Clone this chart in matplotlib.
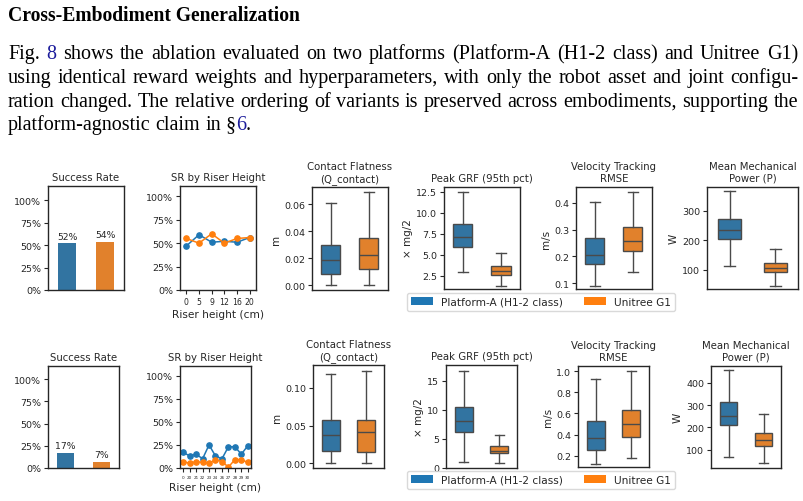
"""
Cross-embodiment generalization figure: paper excerpt plus two rows of
metric panels (Platform-A vs Unitree G1).
"""
import re
import numpy as np
import matplotlib
matplotlib.use("Agg")
import matplotlib.pyplot as plt
from matplotlib.patches import Patch
from matplotlib.ticker import PercentFormatter, FormatStrFormatter

W, H = 804, 502
SERIF = "Liberation Serif"
INK = "#262626"
GRAY = "#4a4a4a"
LINK = "#1c1c9c"
BLUE, ORANGE = "#1f77b4", "#ff7f0e"
BLUE_S, ORANGE_S = "#3274a1", "#e1812c"

# ---- text -----------------------------------------------------------------
title = "Cross-Embodiment Generalization"
body_lines = [
    "Fig. {8} shows the ablation evaluated on two platforms (Platform-A (H1-2 class) and Unitree G1)",
    "using identical reward weights and hyperparameters, with only the robot asset and joint configu-",
    "ration changed. The relative ordering of variants is preserved across embodiments, supporting the",
    "platform-agnostic claim in §{6}.",
]

# ---- data -----------------------------------------------------------------
platforms = ["Platform-A (H1-2 class)", "Unitree G1"]

# row 1
sr_top = [0.52, 0.54]
riser_top_labels = ["0", "5", "9", "12", "16", "20"]
riser_top_a = [0.47, 0.59, 0.51, 0.52, 0.51, 0.56]
riser_top_g = [0.55, 0.50, 0.60, 0.50, 0.55, 0.56]
# box stats as (whislo, q1, med, q3, whishi)
flat_top_a = [0.0, 0.0085, 0.0185, 0.0295, 0.0605]
flat_top_g = [0.0, 0.0115, 0.0225, 0.035, 0.069]
grf_top_a = [2.95, 5.9, 7.05, 8.6, 12.5]
grf_top_g = [1.3, 2.6, 3.05, 3.65, 5.2]
vel_top_a = [0.09, 0.17, 0.205, 0.267, 0.405]
vel_top_g = [0.143, 0.22, 0.257, 0.31, 0.443]
pow_top_a = [113, 205, 236, 270, 367]
pow_top_g = [45, 92, 104, 124, 170]

# row 2
sr_bot = [0.17, 0.07]
riser_bot_labels = ["0", "20", "21", "22", "23", "24", "26", "27", "28", "29", "30"]
riser_bot_a = [0.17, 0.13, 0.15, 0.10, 0.25, 0.13, 0.10, 0.23, 0.23, 0.15, 0.24]
riser_bot_g = [0.07, 0.05, 0.07, 0.06, 0.05, 0.09, 0.07, 0.01, 0.09, 0.09, 0.06]
flat_bot_a = [0.0, 0.017, 0.038, 0.058, 0.119]
flat_bot_g = [0.0, 0.015, 0.042, 0.058, 0.122]
grf_bot_a = [1.0, 6.2, 8.0, 10.5, 16.7]
grf_bot_g = [0.8, 2.5, 3.0, 3.7, 5.6]
vel_bot_a = [0.125, 0.255, 0.37, 0.53, 0.93]
vel_bot_g = [0.18, 0.375, 0.50, 0.635, 1.0]
pow_bot_a = [65, 210, 252, 312, 458]
pow_bot_g = [38, 118, 145, 175, 260]

KEYS = ["whislo", "q1", "med", "q3", "whishi"]

fig = plt.figure(figsize=(W / 100, H / 100), dpi=100)
fig.patch.set_facecolor("white")
renderer = fig.canvas.get_renderer()


def measure(s, size, weight="normal"):
    t = fig.text(0, 0, s, fontsize=size, family=SERIF, weight=weight)
    w = t.get_window_extent(renderer).width
    t.remove()
    return w


def pieces(word):
    out = []
    for i, part in enumerate(re.split(r"[{}]", word)):
        if part:
            out.append((part, LINK if i % 2 else "black"))
    return out


X0, X1 = 8, 798

# title, sized to its width in the reference
tsize = 10 * 294 / measure(title, 10, "bold")
fig.text(X0 / W, 1 - 21 / H, title, fontsize=tsize, family=SERIF,
         weight="bold", va="baseline")

# body, justified like the paper
plain = [re.sub(r"[{}]", "", s) for s in body_lines[:3]]
bsize = min(14.6, 10 * 788 / max(measure(s, 10) for s in plain))
space = measure("a a", bsize) - measure("aa", bsize)
for i, line in enumerate(body_lines):
    y = 59 + 23.8 * i
    words = line.split(" ")
    widths = [[measure(p, bsize) for p, _ in pieces(w)] for w in words]
    total = sum(sum(ws) for ws in widths)
    justify = i < len(body_lines) - 1
    gap = (X1 - X0 - total) / (len(words) - 1) if justify else space
    x = X0
    for w, ws in zip(words, widths):
        for (p, c), pw in zip(pieces(w), ws):
            fig.text(x / W, 1 - y / H, p, fontsize=bsize, family=SERIF,
                     color=c, va="baseline")
            x += pw
        x += gap


# ---- panels ---------------------------------------------------------------
def add_ax(x0, y0, x1, y1):
    ax = fig.add_axes([x0 / W, 1 - y1 / H, (x1 - x0) / W, (y1 - y0) / H])
    for s in ax.spines.values():
        s.set_color(INK)
        s.set_linewidth(1.0)
    ax.tick_params(direction="out", length=3, width=0.8, colors=INK,
                   labelsize=6.8, pad=2)
    return ax


def set_title(ax, text):
    ax.set_title(text, fontsize=7.3, color=INK, pad=4.5)


def bar_panel(rect, vals, top):
    ax = add_ax(*rect)
    bars = ax.bar(range(len(vals)), vals, width=0.48, color=[BLUE_S, ORANGE_S])
    ax.set_xlim(-0.5, 1.5)
    ax.set_ylim(0, top)
    ax.set_xticks([])
    ax.set_yticks([0, 0.25, 0.5, 0.75, 1.0])
    ax.yaxis.set_major_formatter(PercentFormatter(1.0, decimals=0))
    ax.bar_label(bars, labels=[f"{v:.0%}" for v in vals], padding=2,
                 fontsize=6.7, color=INK)
    set_title(ax, "Success Rate")


def riser_panel(rect, labels, a, g, top, tsz):
    ax = add_ax(*rect)
    x = np.arange(len(labels))
    ax.plot(x, a, "-o", color=BLUE, ms=3.8, lw=1.1)
    ax.plot(x, g, "-o", color=ORANGE, ms=3.8, lw=1.1)
    ax.set_xlim(-0.5, len(labels) - 0.5)
    ax.set_ylim(0, top)
    ax.set_xticks(x, labels)
    ax.tick_params(axis="x", labelsize=tsz)
    ax.set_yticks([0, 0.25, 0.5, 0.75, 1.0])
    ax.yaxis.set_major_formatter(PercentFormatter(1.0, decimals=0))
    ax.set_xlabel("Riser height (cm)", fontsize=7.6, color=INK, labelpad=2)
    set_title(ax, "SR by Riser Height")


def box_panel(rect, sa, sg, ylim, ticks, fmt, ylabel, title_text):
    ax = add_ax(*rect)
    stats = [dict(zip(KEYS, s)) for s in (sa, sg)]
    line = dict(color=GRAY, linewidth=1.0)
    bp = ax.bxp(stats, positions=[0, 1], widths=0.5, showfliers=False,
                patch_artist=True,
                boxprops=dict(edgecolor=GRAY, linewidth=1.0),
                whiskerprops=line, capprops=line, medianprops=line)
    for patch, c in zip(bp["boxes"], [BLUE_S, ORANGE_S]):
        patch.set_facecolor(c)
    ax.set_xlim(-0.5, 1.5)
    ax.set_ylim(*ylim)
    ax.set_xticks([])
    ax.set_yticks(ticks)
    ax.yaxis.set_major_formatter(FormatStrFormatter(fmt))
    ax.set_ylabel(ylabel, fontsize=7.5, color=INK, labelpad=2)
    set_title(ax, title_text)


def legend(cx, cy):
    handles = [Patch(facecolor=BLUE, label=platforms[0]),
               Patch(facecolor=ORANGE, label=platforms[1])]
    fig.legend(handles=handles, loc="center",
               bbox_to_anchor=(cx / W, 1 - cy / H), ncol=2, fontsize=7.6,
               labelcolor=INK, frameon=True, edgecolor="#d0d0d0",
               handlelength=2.1, handleheight=0.8, handletextpad=0.75,
               columnspacing=2.0, borderpad=0.35)


CF_T = "Contact Flatness\n(Q_contact)"
GRF_T = "Peak GRF (95th pct)"
VEL_T = "Velocity Tracking\nRMSE"
POW_T = "Mean Mechanical\nPower (P)"

# row 1
bar_panel((48, 187, 124, 291), sr_top, 1.16)
riser_panel((180, 187, 256, 291), riser_top_labels, riser_top_a, riser_top_g, 1.11, 5.6)
box_panel((312, 188, 388, 291), flat_top_a, flat_top_g, (-0.0037, 0.0726),
          [0, 0.02, 0.04, 0.06], "%.2f", "m", CF_T)
box_panel((444, 188, 520, 290), grf_top_a, grf_top_g, (0.92, 13.06),
          [2.5, 5.0, 7.5, 10.0, 12.5], "%.1f", "× mg/2", GRF_T)
box_panel((576, 188, 652, 290), vel_top_a, vel_top_g, (0.0775, 0.46),
          [0.1, 0.2, 0.3, 0.4], "%.1f", "m/s", VEL_T)
box_panel((707, 188, 798, 290), pow_top_a, pow_top_g, (34.5, 380),
          [100, 200, 300], "%d", "W", POW_T)
legend(541, 303)

# row 2
bar_panel((48, 367, 119, 469), sr_bot, 1.15)
riser_panel((180, 367, 251, 469), riser_bot_labels, riser_bot_a, riser_bot_g, 1.105, 3.0)
box_panel((313, 366, 384, 469), flat_bot_a, flat_bot_g, (-0.0062, 0.1305),
          [0, 0.05, 0.10], "%.2f", "m", CF_T)
box_panel((446, 366, 517, 469), grf_bot_a, grf_bot_g, (0, 17.7),
          [0, 5, 10, 15], "%d", "× mg/2", GRF_T)
box_panel((578, 367, 649, 468), vel_bot_a, vel_bot_g, (0.093, 1.05),
          [0.2, 0.4, 0.6, 0.8, 1.0], "%.1f", "m/s", VEL_T)
box_panel((711, 367, 781, 469), pow_bot_a, pow_bot_g, (17.6, 476),
          [100, 200, 300, 400], "%d", "W", POW_T)
legend(541, 481)

fig.savefig("out.png", dpi=100, facecolor="white")
